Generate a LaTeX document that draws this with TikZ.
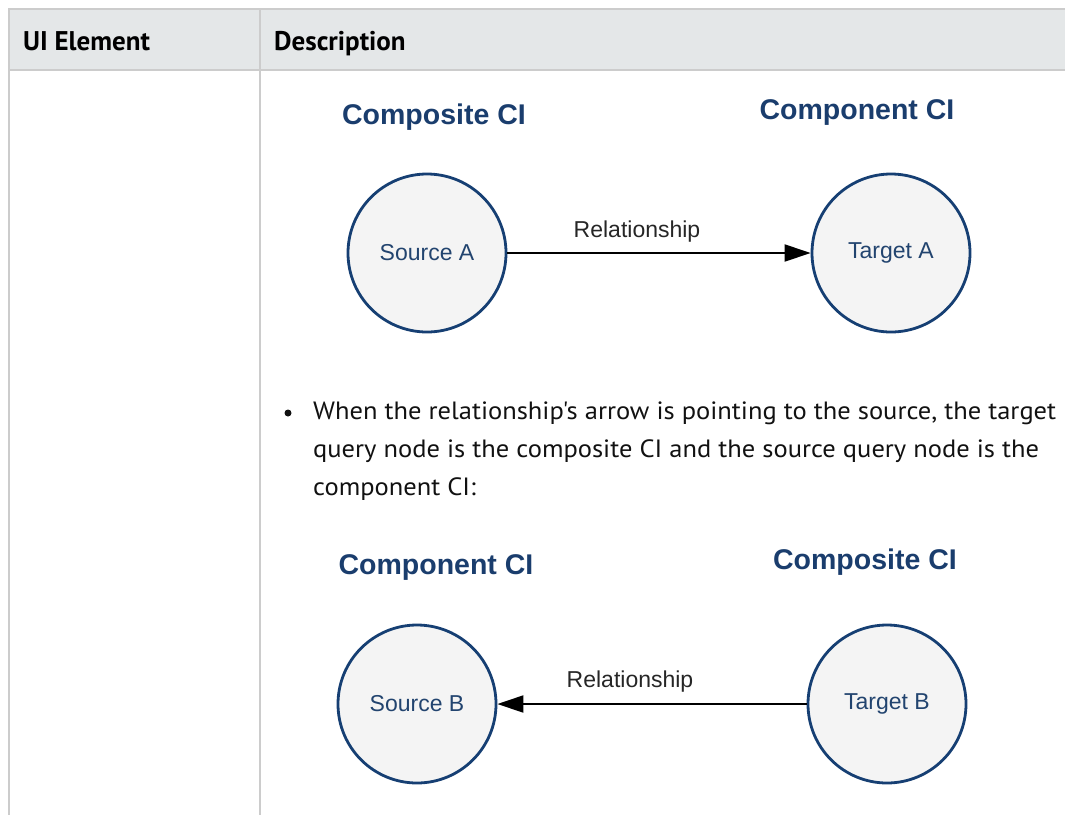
\documentclass[tikz,border=0pt]{standalone}
\usepackage{fontspec}
\setmainfont{PT Sans}
\newfontfamily\bodyf[FakeStretch=1.06]{PT Sans}
\newfontfamily\arialf{Liberation Sans}
\usetikzlibrary{arrows.meta}
\definecolor{hdrbg}{HTML}{E4E7E8}
\definecolor{rulegray}{HTML}{CCCCCC}
\definecolor{navy}{HTML}{1A3D6D}
\definecolor{circline}{HTML}{163F73}
\definecolor{circtext}{HTML}{22446F}
\definecolor{circfill}{HTML}{F4F4F4}
\definecolor{bodytext}{HTML}{111111}
\tikzset{
  rulel/.style={draw=rulegray, line width=2pt},
  hdrtext/.style={anchor=base west, inner sep=0pt, font=\bfseries\fontsize{27}{30}\selectfont, text=black},
  bodyline/.style={anchor=base west, inner sep=0pt, font=\bodyf\fontsize{25}{33}\selectfont, text=bodytext},
  cititle/.style={inner sep=0pt, font=\arialf\bfseries\fontsize{28.5}{32}\selectfont, text=navy},
  cinode/.style={circle, draw=circline, line width=2.8pt, fill=circfill, minimum size=158pt, inner sep=0pt,
    font=\arialf\fontsize{23}{26}\selectfont, text=circtext},
  rellabel/.style={inner sep=0pt, font=\arialf\fontsize{23}{26}\selectfont, text=black!85},
  relarrow/.style={line width=2pt, -{Triangle[length=26pt,width=17pt]}},
}
\begin{document}
\begin{tikzpicture}[x=1pt,y=-1pt]
\useasboundingbox (0,0) rectangle (1065,815);
% table
\fill[hdrbg] (9,9) rectangle (1065,70);
\draw[rulel] (1065,9) -- (9,9) -- (9,815);
\draw[rulel] (9,70) -- (1065,70);
\draw[rulel] (260,9) -- (260,815);
\node[hdrtext] (h1) at (23,50) {UI Element};
\node[hdrtext] (h2) at (274,50) {Description};
% diagram 1
\node[cititle] (t1) at (434,117) {Composite CI};
\node[cititle] (t2) at (857,113) {Component CI};
\node[cinode] (sa) at (427,253) {Source A};
\node[cinode] (ta) at (891,253) {Target A};
\draw[relarrow] (sa) -- (ta);
\node[rellabel] (r1) at (637,232) {Relationship};
% bullet text
\node[circle, fill=bodytext, minimum size=7pt, inner sep=0pt] (bul) at (288,413) {};
\node[bodyline] (l1) at (313,419) {When the relationship{\char"0027}s arrow is pointing to the source, the target};
\node[bodyline] (l2) at (313,457) {query node is the composite CI and the source query node is the};
\node[bodyline] (l3) at (313,495) {component CI:};
% diagram 2
\node[cititle] (t3) at (436,567) {Component CI};
\node[cititle] (t4) at (865,562) {Composite CI};
\node[cinode] (sb) at (417,704) {Source B};
\node[cinode] (tb) at (887,704) {Target B};
\draw[relarrow] (tb) -- (sb);
\node[rellabel] (r2) at (630,682) {Relationship};
\end{tikzpicture}
\end{document}
